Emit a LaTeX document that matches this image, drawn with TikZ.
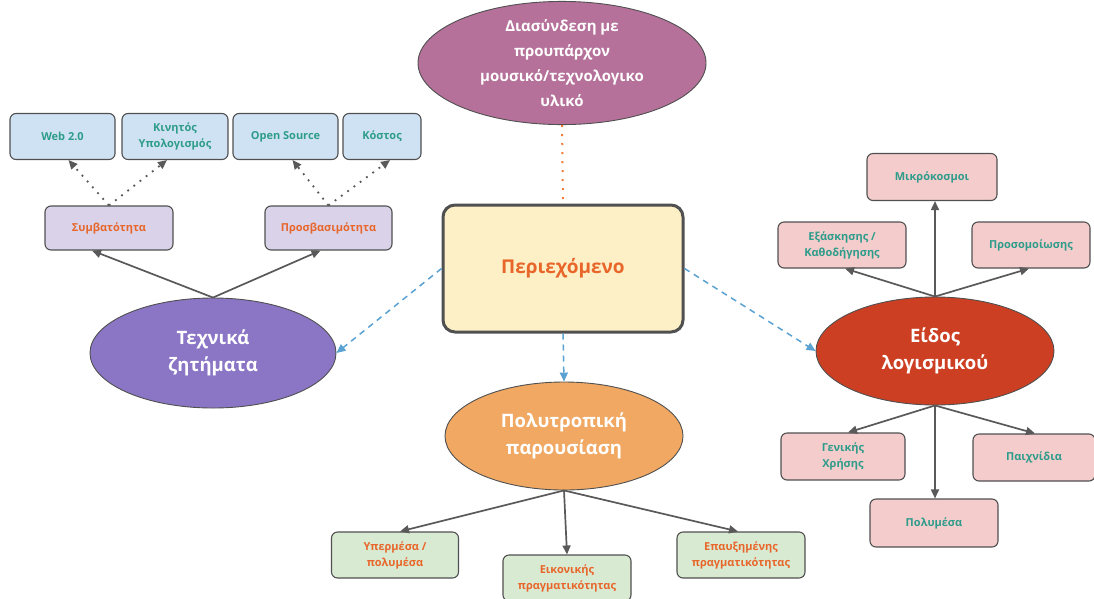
\documentclass[tikz,border=0pt]{standalone}
\usepackage{fontspec}
\setmainfont{Open Sans}
\usetikzlibrary{shapes.geometric,arrows.meta,calc}

\definecolor{edgeC}{HTML}{505050}
\definecolor{arrowC}{HTML}{595959}
\definecolor{tealT}{HTML}{2E9C8A}
\definecolor{orangeT}{HTML}{E8662A}
\definecolor{blueF}{HTML}{CFE2F3}
\definecolor{lilacF}{HTML}{D9D2E9}
\definecolor{pinkF}{HTML}{F4CCCC}
\definecolor{greenF}{HTML}{D9EAD3}
\definecolor{creamF}{HTML}{FDEFC6}
\definecolor{mauveF}{HTML}{B5719A}
\definecolor{violetF}{HTML}{8B76C6}
\definecolor{peachF}{HTML}{F0A862}
\definecolor{redF}{HTML}{CC3F22}
\definecolor{skyA}{HTML}{5AA2D2}
\definecolor{dotO}{HTML}{F07C3A}

\tikzset{
  smallbox/.style={draw=edgeC, line width=1.1pt, rounded corners=6pt,
    minimum height=46pt, align=center, inner sep=2pt,
    font=\bfseries\fontsize{11}{16}\selectfont},
  bluebox/.style={smallbox, fill=blueF, text=tealT},
  lilacbox/.style={smallbox, fill=lilacF, text=orangeT},
  pinkbox/.style={smallbox, fill=pinkF, text=tealT},
  greenbox/.style={smallbox, fill=greenF, text=orangeT},
  blob/.style={ellipse, draw=edgeC, line width=0.9pt, text=white,
    align=center, inner sep=0pt, font=\bfseries\fontsize{18.5}{27}\selectfont},
  solidlink/.style={draw=arrowC, line width=1.7pt,
    -{Triangle[length=9pt,width=8pt]}},
  dotlink/.style={draw=arrowC, line width=1.8pt, dash pattern=on 1.8pt off 6pt,
    -{Triangle[length=9pt,width=8pt]}},
  bluelink/.style={draw=skyA, line width=1.5pt, dash pattern=on 6pt off 5pt,
    -{Triangle[length=9pt,width=8pt]}},
  orangedots/.style={draw=dotO, line width=2pt, dash pattern=on 2pt off 7pt},
}

\begin{document}
\begin{tikzpicture}[x=1pt,y=-1pt]
\useasboundingbox[fill=white] (0,0) rectangle (1094,598);

% central topic
\node[draw=edgeC, line width=3pt, rounded corners=12pt, fill=creamF,
      minimum width=240pt, minimum height=127pt, text=orangeT,
      font=\fontsize{19}{23}\selectfont\bfseries] (content) at (563,268.5) {Περιεχόμενο};

% main branches
\node[blob, fill=mauveF, minimum width=288pt, minimum height=113pt,
      font=\bfseries\fontsize{15}{25}\selectfont] (link) at (562,63)
      {Διασύνδεση με\\προυπάρχον\\μουσικό/τεχνολογικο\\υλικό};
\node[blob, fill=violetF, minimum width=246pt, minimum height=110pt] (tech) at (213,353) {Τεχνικά\\ζητήματα};
\node[blob, fill=peachF, minimum width=238pt, minimum height=108pt] (multi) at (564,436) {Πολυτροπική\\παρουσίαση};
\node[blob, fill=redF, minimum width=238pt, minimum height=108pt] (soft) at (935,351) {Είδος\\λογισμικού};

% technical issues
\node[bluebox, minimum width=105pt] (web) at (62.5,136.5) {Web 2.0};
\node[bluebox, minimum width=106pt] (mobile) at (175,136.5) {Κινητός\\Υπολογισμός};
\node[bluebox, minimum width=105pt] (open) at (285.5,136.5) {Open Source};
\node[bluebox, minimum width=78pt] (cost) at (382,136.5) {Κόστος};
\node[lilacbox, minimum width=128pt, minimum height=44pt] (compat) at (109,228) {Συμβατότητα};
\node[lilacbox, minimum width=127pt, minimum height=44pt] (access) at (328.5,228) {Προσβασιμότητα};

% software types
\node[pinkbox, minimum width=130pt, minimum height=47pt] (micro) at (932,177) {Μικρόκοσμοι};
\node[pinkbox, minimum width=128pt] (practice) at (842,245) {Εξάσκησης /\\Καθοδήγησης};
\node[pinkbox, minimum width=118pt] (sim) at (1031,245) {Προσομοίωσης};
\node[pinkbox, minimum width=124pt, minimum height=47pt] (general) at (843,456.5) {Γενικής\\Χρήσης};
\node[pinkbox, minimum width=122pt, minimum height=47pt] (games) at (1034,457.5) {Παιχνίδια};
\node[pinkbox, minimum width=128pt, minimum height=48pt] (poly) at (934,523) {Πολυμέσα};

% multimodal presentation
\node[greenbox, minimum width=127pt] (hyper) at (395,555) {Υπερμέσα /\\πολυμέσα};
\node[greenbox, minimum width=128pt] (virtual) at (567,578) {Εικονικής\\πραγματικότητας};
\node[greenbox, minimum width=128pt] (aug) at (741,555) {Επαυξημένης\\πραγματικότητας};

% connectors from the central topic
\draw[orangedots] (link.south) -- (content.north);
\draw[bluelink] (content.west) -- (tech.east);
\draw[bluelink] (content.south) -- (multi.north);
\draw[bluelink] (content.east) -- (soft.west);

% technical issues
\draw[solidlink] (tech.north) -- ($(compat.south)+(-17,0)$);
\draw[solidlink] (tech.north) -- ($(access.south)+(-8,0)$);
\draw[dotlink] (compat.north) -- ($(web.south)+(6,0)$);
\draw[dotlink] (compat.north) -- ($(mobile.south)+(-8,0)$);
\draw[dotlink] (access.north) -- ($(open.south)+(7,0)$);
\draw[dotlink] (access.north) -- ($(cost.south)+(8,0)$);

% software types
\draw[solidlink] (soft.north) -- (micro.south -| soft.north);
\draw[solidlink] (soft.north) -- ($(practice.south)+(3,0)$);
\draw[solidlink] (soft.north) -- ($(sim.south)+(-2,0)$);
\draw[solidlink] (soft.south) -- ($(general.north)+(5,0)$);
\draw[solidlink] (soft.south) -- (poly.north -| soft.south);
\draw[solidlink] (soft.south) -- ($(games.north)+(1,0)$);

% multimodal presentation
\draw[solidlink] (multi.south) -- ($(hyper.north)+(5,0)$);
\draw[solidlink] (multi.south) -- (virtual.north);
\draw[solidlink] (multi.south) -- ($(aug.north)+(-3,0)$);
\end{tikzpicture}
\end{document}
